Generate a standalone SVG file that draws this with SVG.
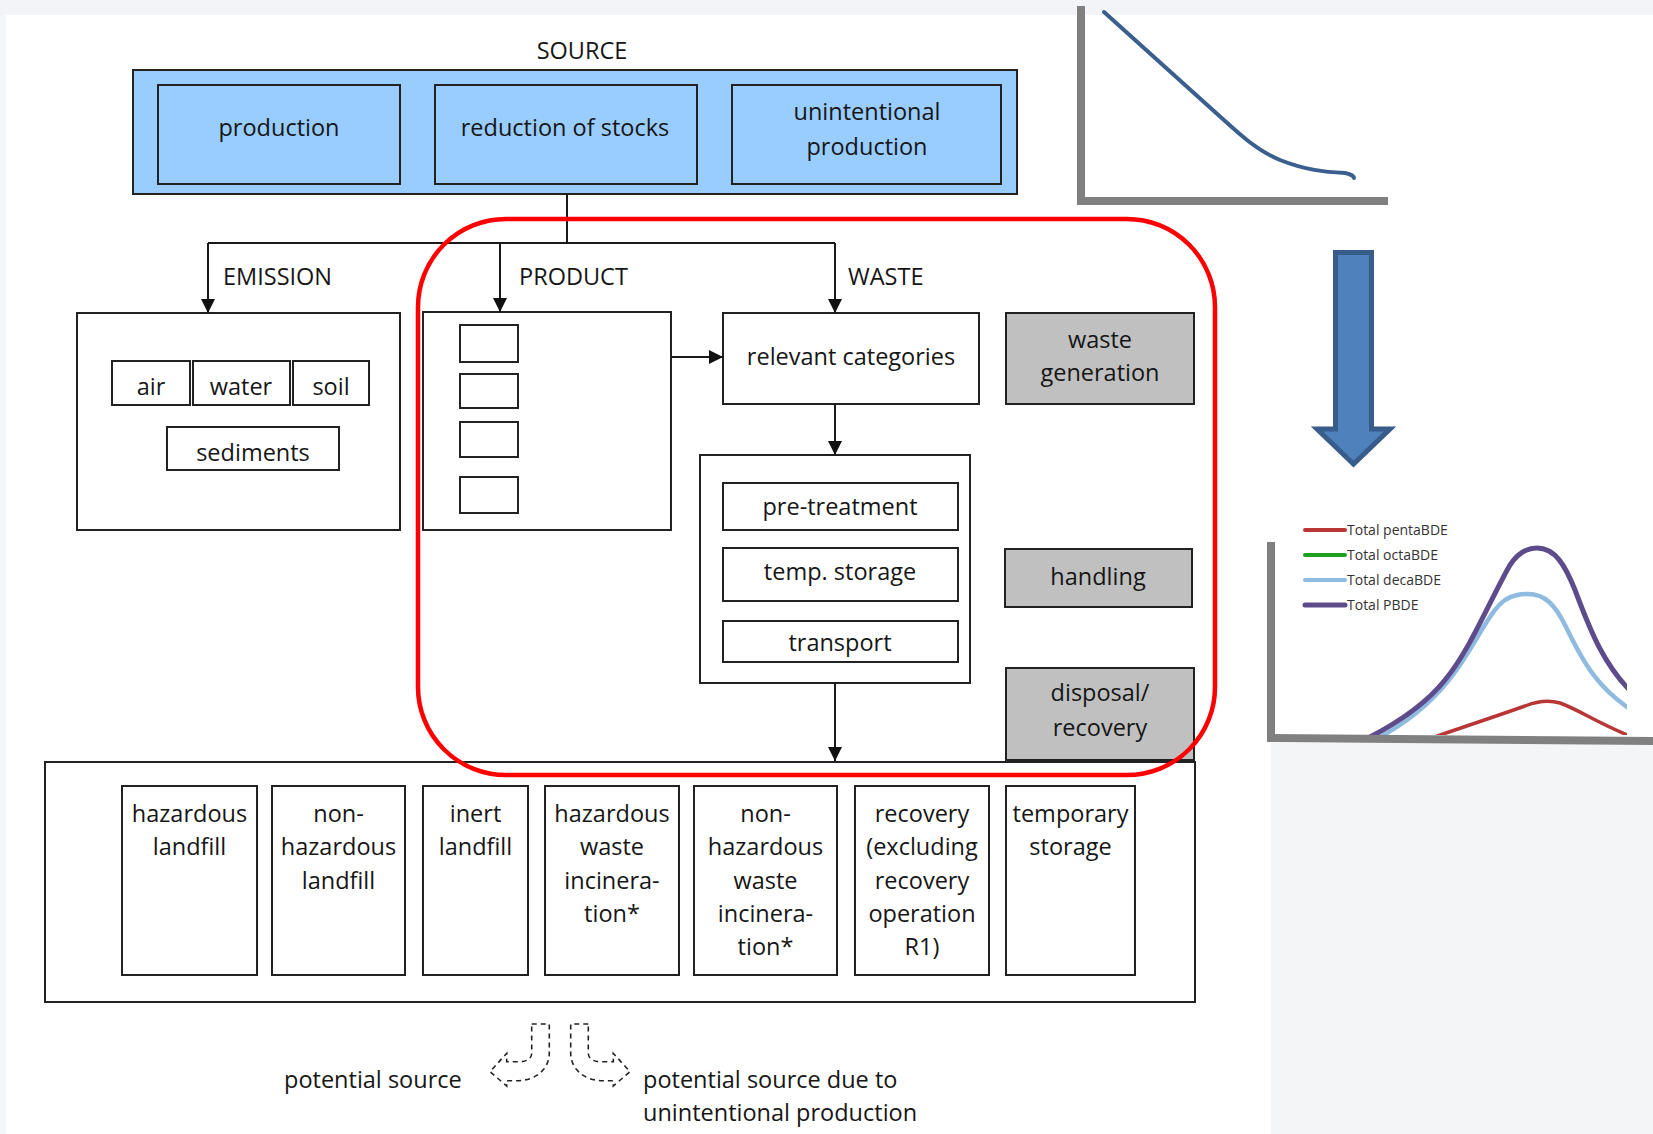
<svg xmlns="http://www.w3.org/2000/svg" width="1653" height="1134" viewBox="0 0 1653 1134">
  <defs>
    <style>
      text { font-family: "Open Sans", "Liberation Sans", sans-serif; font-size: 23.5px; fill: #161616; }
      .c { text-anchor: middle; }
      .box { fill: #ffffff; stroke: #222222; stroke-width: 2; }
      .src { fill: #99ccff; stroke: #222222; stroke-width: 2; }
      .grey { fill: #c0c0c0; stroke: #222222; stroke-width: 2; }
      .wire { fill: none; stroke: #1a1a1a; stroke-width: 2; }
      .dash { fill: none; stroke: #222222; stroke-width: 1.6; stroke-dasharray: 5 4; }
      .axis { fill: #808080; }
      .leg { font-size: 14px; fill: #333333; }
    </style>
    <marker id="arrow" markerUnits="userSpaceOnUse" markerWidth="14" markerHeight="14" refX="14" refY="7" orient="auto">
      <path d="M0,0 L14,7 L0,14 Z" fill="#111111"/>
    </marker>
    <clipPath id="plotClip">
      <rect x="1275" y="480" width="352" height="255"/>
    </clipPath>
  </defs>

  <!-- page background -->
  <rect x="0" y="0" width="1653" height="1134" fill="#ffffff"/>
  <rect x="0" y="0" width="1653" height="15" fill="#f2f4f7"/>
  <rect x="0" y="15" width="6" height="1119" fill="#f4f5f7"/>
  <rect x="1271" y="743" width="382" height="391" fill="#f4f5f6"/>

  <!-- source block -->
  <g id="source">
    <text class="c" x="582" y="59">SOURCE</text>
    <rect class="src" x="133" y="70" width="884" height="124"/>
  </g>
  <g id="production">
    <rect class="src" x="158" y="85" width="242" height="99"/>
    <text class="c" x="279" y="136">production</text>
  </g>
  <g id="reduction-of-stocks">
    <rect class="src" x="435" y="85" width="262" height="99"/>
    <text class="c" x="565" y="136">reduction of stocks</text>
  </g>
  <g id="unintentional-production">
    <rect class="src" x="732" y="85" width="269" height="99"/>
    <text class="c" x="867" y="120">unintentional</text>
    <text class="c" x="867" y="155">production</text>
  </g>

  <!-- emission compartments -->
  <g id="emission">
    <rect class="box" x="77" y="313" width="323" height="217"/>
    <rect class="box" x="112" y="361" width="78" height="44"/>
    <text class="c" x="151" y="395">air</text>
    <rect class="box" x="193" y="361" width="97" height="44"/>
    <text class="c" x="241" y="395">water</text>
    <rect class="box" x="293" y="361" width="76" height="44"/>
    <text class="c" x="331" y="395">soil</text>
    <rect class="box" x="167" y="427" width="172" height="43"/>
    <text class="c" x="253" y="461">sediments</text>
  </g>

  <!-- product list -->
  <g id="product">
    <rect class="box" x="423" y="312" width="248" height="218"/>
    <rect class="box" x="460" y="325" width="58" height="37"/>
    <rect class="box" x="460" y="374" width="58" height="34"/>
    <rect class="box" x="460" y="422" width="58" height="35"/>
    <rect class="box" x="460" y="477" width="58" height="36"/>
  </g>

  <!-- waste path -->
  <g id="relevant-categories">
    <rect class="box" x="723" y="313" width="256" height="91"/>
    <text class="c" x="851" y="365">relevant categories</text>
  </g>
  <g id="waste-handling">
    <rect class="box" x="700" y="455" width="270" height="228"/>
    <rect class="box" x="723" y="483" width="235" height="47"/>
    <text class="c" x="840" y="515">pre-treatment</text>
    <rect class="box" x="723" y="548" width="235" height="53"/>
    <text class="c" x="840" y="580">temp. storage</text>
    <rect class="box" x="723" y="621" width="235" height="41"/>
    <text class="c" x="840" y="651">transport</text>
  </g>

  <!-- stage labels -->
  <g id="waste-generation">
    <rect class="grey" x="1006" y="313" width="188" height="91"/>
    <text class="c" x="1100" y="348">waste</text>
    <text class="c" x="1100" y="381">generation</text>
  </g>
  <g id="handling">
    <rect class="grey" x="1005" y="549" width="187" height="58"/>
    <text class="c" x="1098" y="585">handling</text>
  </g>
  <g id="disposal-recovery">
    <rect class="grey" x="1006" y="668" width="188" height="92"/>
    <text class="c" x="1100" y="701">disposal/</text>
    <text class="c" x="1100" y="736">recovery</text>
  </g>

  <!-- disposal and recovery options -->
  <g id="disposal-options">
    <rect class="box" x="45" y="762" width="1150" height="240" stroke-width="2.4"/>
  </g>
  <g id="hazardous-landfill">
    <rect class="box" x="122" y="786" width="135" height="189"/>
    <text class="c" x="189.5" y="822">hazardous</text>
    <text class="c" x="189.5" y="855">landfill</text>
  </g>
  <g id="non-hazardous-landfill">
    <rect class="box" x="272" y="786" width="133" height="189"/>
    <text class="c" x="338.5" y="822">non-</text>
    <text class="c" x="338.5" y="855">hazardous</text>
    <text class="c" x="338.5" y="889">landfill</text>
  </g>
  <g id="inert-landfill">
    <rect class="box" x="423" y="786" width="105" height="189"/>
    <text class="c" x="475.5" y="822">inert</text>
    <text class="c" x="475.5" y="855">landfill</text>
  </g>
  <g id="hazardous-incineration">
    <rect class="box" x="545" y="786" width="134" height="189"/>
    <text class="c" x="612" y="822">hazardous</text>
    <text class="c" x="612" y="855">waste</text>
    <text class="c" x="612" y="889">incinera-</text>
    <text class="c" x="612" y="922">tion*</text>
  </g>
  <g id="non-hazardous-incineration">
    <rect class="box" x="694" y="786" width="143" height="189"/>
    <text class="c" x="765.5" y="822">non-</text>
    <text class="c" x="765.5" y="855">hazardous</text>
    <text class="c" x="765.5" y="889">waste</text>
    <text class="c" x="765.5" y="922">incinera-</text>
    <text class="c" x="765.5" y="955">tion*</text>
  </g>
  <g id="recovery">
    <rect class="box" x="855" y="786" width="134" height="189"/>
    <text class="c" x="922" y="822">recovery</text>
    <text class="c" x="922" y="855">(excluding</text>
    <text class="c" x="922" y="889">recovery</text>
    <text class="c" x="922" y="922">operation</text>
    <text class="c" x="922" y="955">R1)</text>
  </g>
  <g id="temporary-storage">
    <rect class="box" x="1006" y="786" width="129" height="189"/>
    <text class="c" x="1070.5" y="822">temporary</text>
    <text class="c" x="1070.5" y="855">storage</text>
  </g>

  <!-- connectors -->
  <g id="connectors">
    <path class="wire" d="M567,194 V243 M208,243 H835"/>
    <path class="wire" d="M208,243 V313" marker-end="url(#arrow)"/>
    <path class="wire" d="M500,243 V312" marker-end="url(#arrow)"/>
    <path class="wire" d="M835,243 V313" marker-end="url(#arrow)"/>
    <path class="wire" d="M671,357 H723" marker-end="url(#arrow)"/>
    <path class="wire" d="M835,404 V455" marker-end="url(#arrow)"/>
    <path class="wire" d="M835,683 V761" marker-end="url(#arrow)"/>
    <text x="223" y="285">EMISSION</text>
    <text x="519" y="285">PRODUCT</text>
    <text x="848" y="285">WASTE</text>
  </g>

  <!-- highlighted waste-management scope -->
  <g id="scope">
    <rect x="418" y="219" width="797" height="556" rx="88" ry="88" fill="none" stroke="#ff0000" stroke-width="4.5"/>
  </g>

  <!-- legend of potential sources -->
  <g id="legend">
    <path class="dash" d="M531.7,1024 H549.3 V1053.3 C549.3,1068.3 536.7,1080.7 516.7,1080.7 H506.7 V1086 L490,1071.7 L506.7,1053.3 V1061.7 H520 C526.7,1061.7 531.7,1058.3 531.7,1053.3 Z"/>
    <path class="dash" transform="translate(1120,0) scale(-1,1)" d="M531.7,1024 H549.3 V1053.3 C549.3,1068.3 536.7,1080.7 516.7,1080.7 H506.7 V1086 L490,1071.7 L506.7,1053.3 V1061.7 H520 C526.7,1061.7 531.7,1058.3 531.7,1053.3 Z"/>
    <text x="284" y="1088">potential source</text>
    <text x="643" y="1088">potential source due to</text>
    <text x="643" y="1121">unintentional production</text>
  </g>

  <!-- declining trend chart -->
  <g id="trend-chart">
    <rect class="axis" x="1077" y="6" width="8" height="199"/>
    <rect class="axis" x="1077" y="197" width="311" height="8"/>
    <path d="M1104,12 L1215,112 C1235,130 1255,150 1280,160 C1305,170 1325,172 1345,173 C1350,174 1354,176 1354,178" fill="none" stroke="#3a5f8f" stroke-width="4" stroke-linecap="round"/>
  </g>

  <!-- downward block arrow -->
  <g id="down-arrow">
    <path d="M1335.5,252.5 H1371.5 V429 H1390 L1353.5,464 L1317,429 H1335.5 Z" fill="#4f81bd" stroke="#385d8a" stroke-width="5"/>
  </g>

  <!-- PBDE chart -->
  <g id="pbde-chart">
    <g clip-path="url(#plotClip)" fill="none" stroke-linecap="round">
      <path d="M1420,742 C1460,728 1500,715 1525,706 C1540,700 1550,700 1560,703 C1580,710 1600,725 1640,740" stroke="#b83636" stroke-width="3.5"/>
      <path d="M1370,742 C1405,725 1435,700 1455,672 C1475,645 1490,610 1505,600 C1515,594 1522,594 1528,594 C1545,594 1555,605 1565,625 C1580,655 1595,690 1640,715" stroke="#8fbbe0" stroke-width="4.5"/>
      <path d="M1360,742 C1395,725 1425,705 1445,680 C1470,650 1490,600 1510,565 C1520,550 1530,548 1537,548 C1555,548 1565,565 1575,590 C1590,630 1605,670 1640,700" stroke="#5e4b8b" stroke-width="5"/>
    </g>
    <rect class="axis" x="1267" y="542" width="8" height="200"/>
    <path class="axis" d="M1267,734 L1653,737 L1653,745 L1267,742 Z"/>
    <g stroke-width="4" stroke-linecap="round">
      <line x1="1305" y1="530" x2="1345" y2="530" stroke="#b83636"/>
      <line x1="1305" y1="555" x2="1345" y2="555" stroke="#1ea01e"/>
      <line x1="1305" y1="580" x2="1345" y2="580" stroke="#8fbbe0"/>
      <line x1="1305" y1="605" x2="1345" y2="605" stroke="#5e4b8b" stroke-width="5"/>
    </g>
    <text class="leg" x="1347" y="535">Total pentaBDE</text>
    <text class="leg" x="1347" y="560">Total octaBDE</text>
    <text class="leg" x="1347" y="585">Total decaBDE</text>
    <text class="leg" x="1347" y="610">Total PBDE</text>
  </g>
</svg>
